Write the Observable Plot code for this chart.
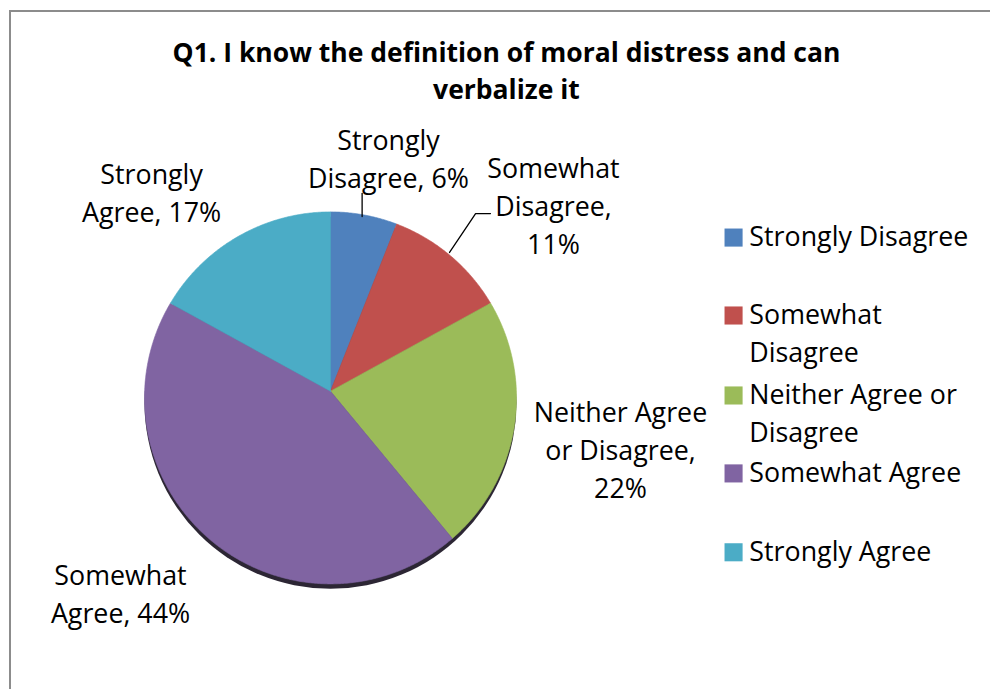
<!DOCTYPE html>
<html><head><meta charset="utf-8">
<script src="https://cdn.jsdelivr.net/npm/d3@7"></script>
<script src="https://cdn.jsdelivr.net/npm/@observablehq/plot@0.6"></script>
<style>
html,body{margin:0;padding:0;background:#fff;width:990px;height:689px;overflow:hidden}
#frame{position:absolute;left:9px;top:10px;width:1100px;height:800px;border-left:2px solid #8c8c8c;border-top:2px solid #8c8c8c}
#chart{position:absolute;left:0;top:0}
</style></head><body><div id="frame"></div><div id="chart"></div>
<script>
// ---- data ----
const categories = ["Strongly Disagree","Somewhat Disagree","Neither Agree or Disagree","Somewhat Agree","Strongly Agree"];
const percents = [6, 11, 22, 44, 17];
const sliceLabels = ["Strongly\nDisagree, 6%","Somewhat\nDisagree,\n11%","Neither Agree\nor Disagree,\n22%","Somewhat\nAgree, 44%","Strongly\nAgree, 17%"];
const legendLabels = ["Strongly Disagree","Somewhat\nDisagree","Neither Agree or\nDisagree","Somewhat Agree","Strongly Agree"];
const colors = ["#4F81BD","#C0504D","#9BBB59","#8064A2","#4BACC6"];
const title = "Q1. I know the definition of moral distress and can\nverbalize it";

// ---- layout (pie radius units; pie circle centre at 0,0, radius 1) ----
const R = 186, CX = 330, CY = 397.4;
const vertex = [0, 0.036];
const labelPos = [[0.312,1.298],[1.199,1.042],[1.559,-0.269],[-1.129,-1.044],[-0.962,1.112]];
const leaders = [
  {id:"a", pts:[[0.170,1.099],[0.170,0.975]]},
  {id:"b", pts:[[0.640,0.782],[0.780,0.991],[0.860,0.991]]}
];
const legendX = 2.167, legendTextX = 2.252;
const legendY = [0.862, 0.443, 0.013, -0.406, -0.830];
const lineStep = 38 / R;
const fontSize = 26.8;
const shadowOffset = 0.026;

// ---- geometry from data ----
function rayHit(theta){
  const ux = Math.sin(theta), uy = Math.cos(theta);
  const b = vertex[0]*ux + vertex[1]*uy;
  const c = vertex[0]*vertex[0] + vertex[1]*vertex[1] - 1;
  const t = -b + Math.sqrt(b*b - c);
  return [vertex[0] + t*ux, vertex[1] + t*uy];
}
const arcs = d3.pie().sort(null).value(d => d)(percents);
const slicePts = arcs.flatMap((a, i) => {
  const p0 = rayHit(a.startAngle), p1 = rayHit(a.endAngle);
  let f0 = Math.atan2(p0[0], p0[1]), f1 = Math.atan2(p1[0], p1[1]);
  while (f1 <= f0) f1 += 2*Math.PI;
  const n = Math.max(2, Math.ceil((f1 - f0) / 0.008));
  const pts = [{x: vertex[0], y: vertex[1]}];
  for (let k = 0; k <= n; k++) {
    const f = f0 + (f1 - f0) * k / n;
    pts.push({x: Math.sin(f), y: Math.cos(f)});
  }
  pts.push({x: vertex[0], y: vertex[1]});
  return pts.map(p => ({...p, category: categories[i]}));
});
const labelData = categories.map((c, i) => ({category: c, text: sliceLabels[i], x: labelPos[i][0], y: labelPos[i][1]}));
const leaderPts = leaders.flatMap(l => l.pts.map(p => ({id: l.id, x: p[0], y: p[1]})));
const legendSquares = categories.map((c, i) => ({category: c, x: legendX, y: legendY[i]}));
const legendText = categories.flatMap((c, i) => legendLabels[i].split("\n").map((t, j) => ({text: t, x: legendTextX, y: legendY[i] - j*lineStep})));

const chart = Plot.plot({
  width: 990, height: 689, margin: 0,
  x: {domain: [-1, 1], range: [CX - R, CX + R], axis: null},
  y: {domain: [-1, 1], range: [CY + R, CY - R], axis: null},
  color: {domain: categories, range: colors},
  marks: [
    Plot.dot([{x: 0, y: -shadowOffset}], {x: "x", y: "y", r: R, fill: "#2c2634", stroke: "none", ariaLabel: "shadow"}),
    Plot.line(slicePts, {x: "x", y: "y", z: "category", fill: "category", stroke: "category", strokeWidth: 0.6, curve: "linear-closed"}),
    Plot.line(leaderPts, {x: "x", y: "y", z: "id", stroke: "#000", strokeWidth: 1.3}),
    Plot.text(labelData, {x: "x", y: "y", text: "text", fontFamily: "Open Sans", fontSize, lineHeight: 38/fontSize, textAnchor: "middle", lineAnchor: "middle", fill: "#000"}),
    Plot.dot(legendSquares, {x: "x", y: "y", symbol: "square", r: 10.2, fill: "category", stroke: "none"}),
    Plot.text(legendText, {x: "x", y: "y", text: "text", fontFamily: "Open Sans", fontSize, textAnchor: "start", lineAnchor: "middle", fill: "#000"}),
    Plot.text([title], {x: () => 0.946, y: () => 1.768, text: d => d, fontFamily: "Open Sans", fontWeight: "bold", fontSize: 26.5, lineHeight: 37/26.5, textAnchor: "middle", lineAnchor: "middle", fill: "#000"})
  ]
});
chart.style.background = "transparent";
document.getElementById("chart").appendChild(chart);
const sh = chart.querySelector('[aria-label="shadow"]');
if (sh) sh.style.filter = "blur(1px)";
</script></body></html>
